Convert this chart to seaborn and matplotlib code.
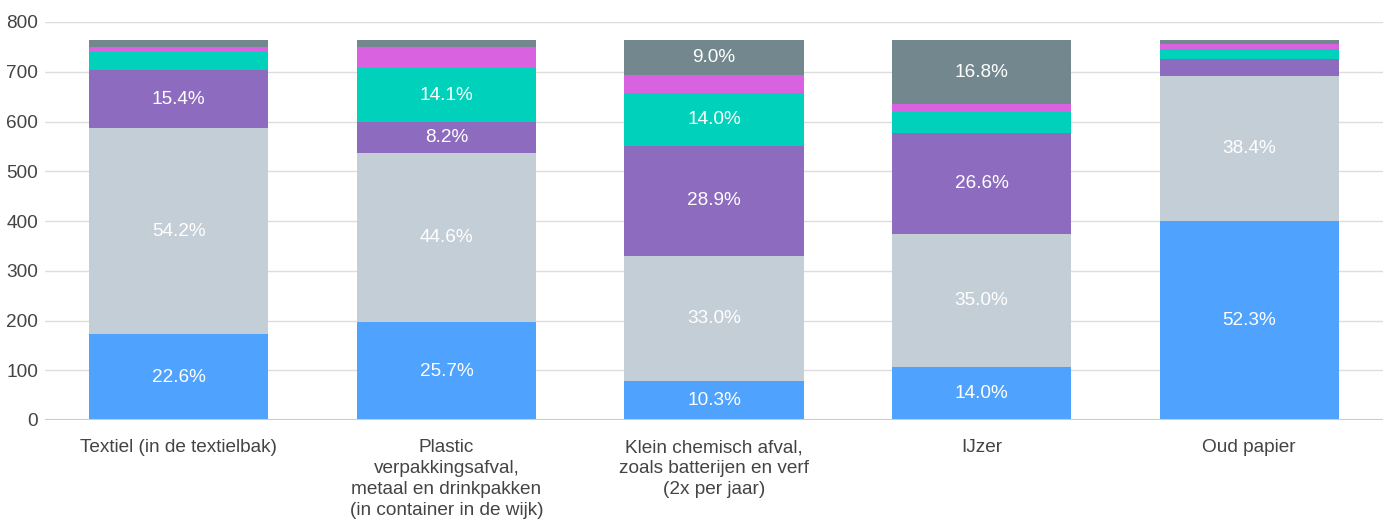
import seaborn as sns
import matplotlib.pyplot as plt
import pandas as pd
import numpy as np

categories = [
    "Textiel (in de textielbak)",
    "Plastic\nverpakkingsafval,\nmetaal en drinkpakken\n(in container in de wijk)",
    "Klein chemisch afval,\nzoals batterijen en verf\n(2x per jaar)",
    "IJzer",
    "Oud papier",
]
total = 763

# percentages per segment, bottom to top
seg_blue = [22.6, 25.7, 10.3, 14.0, 52.3]
seg_lightgray = [54.2, 44.6, 33.0, 35.0, 38.4]
seg_purple = [15.4, 8.2, 28.9, 26.6, 4.5]
seg_teal = [4.8, 14.1, 14.0, 5.6, 2.6]
seg_magenta = [1.3, 5.7, 4.8, 2.0, 1.3]
seg_gray = [1.7, 1.7, 9.0, 16.8, 0.9]

segments = [seg_blue, seg_lightgray, seg_purple, seg_teal, seg_magenta, seg_gray]
colors = ["#4fa3ff", "#c4ced7", "#8d6bbf", "#00d1bb", "#d962e0", "#73888e"]

sns.set_style("white")
plt.rcParams["font.family"] = ["Liberation Sans", "DejaVu Sans"]

fig = plt.figure(figsize=(13.91, 5.28), dpi=100)
ax = fig.add_axes([45 / 1391, 1 - 420 / 528, (1383 - 45) / 1391, (420 - 22) / 528])

bottom = np.zeros(len(categories))
for seg, col in zip(segments, colors):
    vals = np.array(seg) / 100 * total
    df = pd.DataFrame({"cat": categories, "val": vals})
    ax.bar(df["cat"], df["val"], bottom=bottom, color=col, width=0.67,
           linewidth=0, edgecolor="none", zorder=3)
    for i, (p, v) in enumerate(zip(seg, vals)):
        if p >= 7:
            ax.text(i, bottom[i] + v / 2, f"{p:.1f}%", ha="center", va="center",
                    color="white", fontsize=13.7, zorder=4)
    bottom += vals

ax.set_xlim(-0.5, 4.5)
ax.set_ylim(0, 800)
ax.set_yticks(range(0, 801, 100))
ax.yaxis.grid(True, color="#dddddd", linewidth=1, zorder=0)
ax.axhline(0, color="#cccccc", linewidth=1.5, zorder=5)
sns.despine(ax=ax, left=True, bottom=True, top=True, right=True)
ax.tick_params(axis="both", length=0, labelsize=13.7, labelcolor="#444444")
ax.tick_params(axis="y", pad=5)
ax.tick_params(axis="x", pad=14)
for lbl in ax.get_xticklabels():
    lbl.set_linespacing(1.3)

plt.savefig("out.png", dpi=100)
